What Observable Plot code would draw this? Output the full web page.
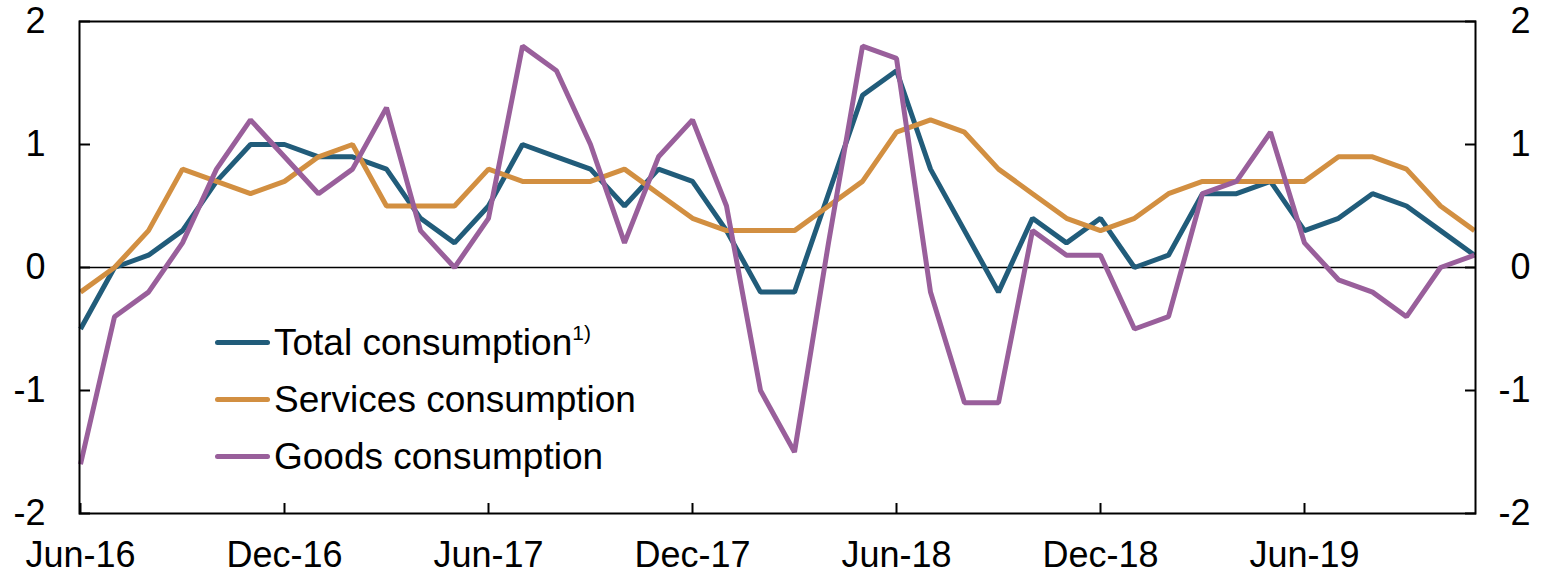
<!DOCTYPE html>
<html><head><meta charset="utf-8">
<script src="https://cdn.jsdelivr.net/npm/d3@7"></script>
<script src="https://cdn.jsdelivr.net/npm/@observablehq/plot@0.6"></script>
<style>
body{margin:0;background:#fff;}
#wrap{position:relative;width:1546px;height:576px;font-family:"Liberation Sans",Arial,sans-serif;color:#000;}
#legend{position:absolute;left:215px;top:314px;}
.row{display:flex;align-items:center;height:57px;font-size:37px;white-space:nowrap;}
.sw{width:55px;height:5px;border-radius:3px;margin-right:4px;}
sup{font-size:21px;vertical-align:15px;}
</style></head><body><div id="wrap"><div id="legend"></div></div>
<script>
const months = ["Jun-16","Jul-16","Aug-16","Sep-16","Oct-16","Nov-16","Dec-16","Jan-17","Feb-17","Mar-17","Apr-17","May-17","Jun-17","Jul-17","Aug-17","Sep-17","Oct-17","Nov-17","Dec-17","Jan-18","Feb-18","Mar-18","Apr-18","May-18","Jun-18","Jul-18","Aug-18","Sep-18","Oct-18","Nov-18","Dec-18","Jan-19","Feb-19","Mar-19","Apr-19","May-19","Jun-19","Jul-19","Aug-19","Sep-19","Oct-19","Nov-19"];
const xTicks = ["Jun-16","Dec-16","Jun-17","Dec-17","Jun-18","Dec-18","Jun-19"];
const yTicks = [-2,-1,0,1,2];
const seriesNames = ["Total consumption","Services consumption","Goods consumption"];
const seriesColors = ["#215c7a","#d28f41","#995f9b"];
const total = [-0.5,0.0,0.1,0.3,0.7,1.0,1.0,0.9,0.9,0.8,0.4,0.2,0.5,1.0,0.9,0.8,0.5,0.8,0.7,0.3,-0.2,-0.2,0.6,1.4,1.6,0.8,0.3,-0.2,0.4,0.2,0.4,0.0,0.1,0.6,0.6,0.7,0.3,0.4,0.6,0.5,0.3,0.1];
const services = [-0.2,0.0,0.3,0.8,0.7,0.6,0.7,0.9,1.0,0.5,0.5,0.5,0.8,0.7,0.7,0.7,0.8,0.6,0.4,0.3,0.3,0.3,0.5,0.7,1.1,1.2,1.1,0.8,0.6,0.4,0.3,0.4,0.6,0.7,0.7,0.7,0.7,0.9,0.9,0.8,0.5,0.3];
const goods = [-1.6,-0.4,-0.2,0.2,0.8,1.2,0.9,0.6,0.8,1.3,0.3,0.0,0.4,1.8,1.6,1.0,0.2,0.9,1.2,0.5,-1.0,-1.5,0.2,1.8,1.7,-0.2,-1.1,-1.1,0.3,0.1,0.1,-0.5,-0.4,0.6,0.7,1.1,0.2,-0.1,-0.2,-0.4,0.0,0.1];

const seriesValues = [total, services, goods];
const data = [];
seriesValues.forEach((vals, s) => vals.forEach((v, i) => data.push({series: seriesNames[s], month: months[i], value: v})));

const font = "Liberation Sans, Arial, sans-serif";
const chart = Plot.plot({
  width: 1546, height: 576,
  marginLeft: 79, marginRight: 71, marginTop: 21, marginBottom: 63,
  style: {fontFamily: font, fontSize: "36px", background: "white", color: "black"},
  x: {type: "point", domain: months, padding: 0, label: null},
  y: {domain: [-2, 2], label: null},
  color: {domain: seriesNames, range: seriesColors},
  marks: [
    Plot.ruleY([0], {stroke: "black", strokeWidth: 1.3}),
    Plot.line(data, {x: "month", y: "value", z: "series", stroke: "series", strokeWidth: 5, strokeLinejoin: "miter", strokeLinecap: "butt"}),
    Plot.frame({stroke: "black", strokeWidth: 2}),
    Plot.axisY(yTicks, {anchor: "left", label: null, tickSize: -11, tickPadding: 45, strokeWidth: 2, fontSize: 36, tickFormat: d => String(d)}),
    Plot.axisY(yTicks, {anchor: "right", label: null, tickSize: -11, tickPadding: 66, textAnchor: "end", strokeWidth: 2, fontSize: 36, tickFormat: d => String(d)}),
    Plot.axisX(xTicks, {anchor: "bottom", label: null, tickSize: -10, tickPadding: 38, strokeWidth: 2, fontSize: 36})
  ]
});
document.getElementById("wrap").prepend(chart);

const legend = document.getElementById("legend");
seriesNames.forEach((name, i) => {
  const row = document.createElement("div");
  row.className = "row";
  row.innerHTML = `<div class="sw" style="background:${seriesColors[i]}"></div><span>${name}${i === 0 ? "<sup>1)</sup>" : ""}</span>`;
  legend.appendChild(row);
});
</script>
</body></html>
